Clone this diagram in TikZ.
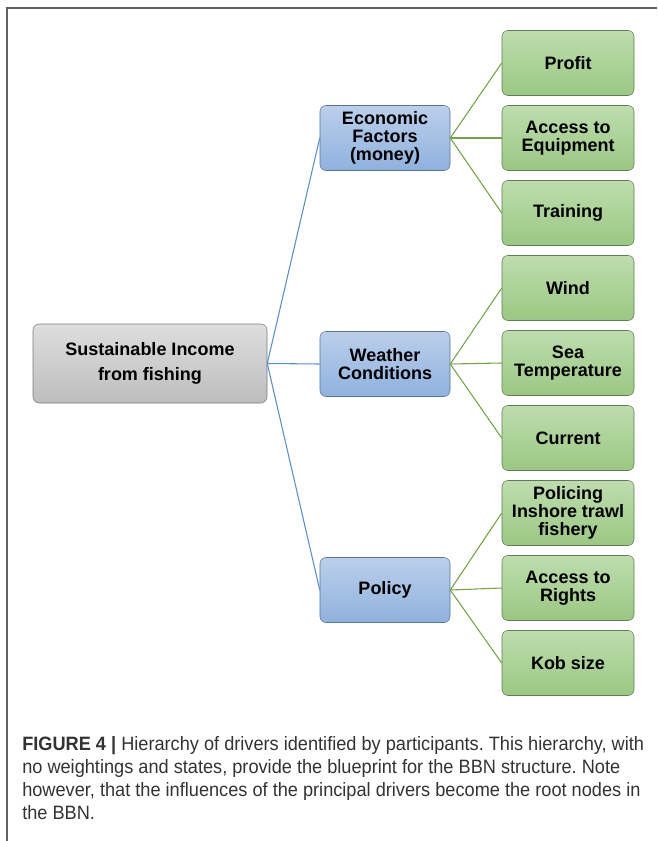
\documentclass[tikz,border=0pt]{standalone}
\usepackage{fontspec}
\setmainfont{Liberation Sans}
\newfontfamily\capfont[FakeStretch=0.94]{Liberation Sans}
\usetikzlibrary{shapes}
\frenchspacing

\definecolor{rootTop}{HTML}{DEDEDE}
\definecolor{rootBot}{HTML}{BDBDBD}
\definecolor{rootEdge}{HTML}{7A7A7A}
\definecolor{midTop}{HTML}{BBCFEB}
\definecolor{midBot}{HTML}{8FB2DE}
\definecolor{midEdge}{HTML}{56739C}
\definecolor{leafTop}{HTML}{BEDDAE}
\definecolor{leafBot}{HTML}{9AC882}
\definecolor{leafEdge}{HTML}{627A55}
\definecolor{blueLine}{HTML}{5B8ED0}
\definecolor{greenLine}{HTML}{74A446}
\definecolor{capText}{HTML}{333333}

\begin{document}
\begin{tikzpicture}[x=0.75pt, y=-0.75pt,
every node/.style = {rounded corners=4.5pt, align=center, inner sep=2pt,
                     font=\fontsize{13.5}{13.5}\selectfont\bfseries},
rootbox/.style = {draw=rootEdge, top color=rootTop, bottom color=rootBot,
                  minimum width=175.5pt, minimum height=59.25pt,
                  font=\fontsize{13.5}{18.75}\selectfont\bfseries},
midbox/.style = {draw=midEdge, top color=midTop, bottom color=midBot,
                 minimum width=97.5pt, minimum height=48.75pt},
leafbox/.style = {draw=leafEdge, top color=leafTop, bottom color=leafBot,
                  minimum width=99pt, minimum height=48.75pt},
capline/.style = {anchor=base west, inner sep=0pt, rounded corners=0pt,
                  text=capText, font=\capfont\fontsize{14.5}{17}\selectfont},
rootline/.style = {draw=blueLine, line width=0.8pt},
leafline/.style = {draw=greenLine, line width=0.8pt}]
\useasboundingbox (0,0) rectangle (657,841);
\draw[rootEdge!80!black, line width=0.8pt] (657,8) -- (7,8) -- (7,841);

\node[rootbox] (income) at (150,363.5) {Sustainable Income\\from fishing};

\node[midbox] (econ) at (385,0*226+138) {Economic\\Factors\\(money)};
\node[midbox] (weather) at (385,1*226+138) {Weather\\Conditions};
\node[midbox] (policy) at (385,2*226+138) {Policy};

\node[leafbox] (profit) at (568,0*75+63) {Profit};
\node[leafbox] (equip) at (568,1*75+63) {Access to\\Equipment};
\node[leafbox] (training) at (568,2*75+63) {Training};
\node[leafbox] (wind) at (568,3*75+63) {Wind};
\node[leafbox] (seatemp) at (568,4*75+63) {Sea\\Temperature};
\node[leafbox] (current) at (568,5*75+63) {Current};
\node[leafbox] (policing) at (568,6*75+63) {Policing\\Inshore trawl\\fishery};
\node[leafbox] (rights) at (568,7*75+63) {Access to\\Rights};
\node[leafbox] (kob) at (568,8*75+63) {Kob size};

% the branches
\foreach \m in {econ, weather, policy}
  \draw[rootline] (income.east) -- (\m.west);
\foreach \l in {profit, equip, training}
  \draw[leafline] (econ.east) -- (\l.west);
\foreach \l in {wind, seatemp, current}
  \draw[leafline] (weather.east) -- (\l.west);
\foreach \l in {policing, rights, kob}
  \draw[leafline] (policy.east) -- (\l.west);

\node[capline] (cap1) at (22,750) {\textbf{FIGURE 4 |} Hierarchy of drivers identified by participants. This hierarchy, with};
\node[capline] (cap2) at (22,773) {no weightings and states, provide the blueprint for the BBN structure. Note};
\node[capline] (cap3) at (22,796) {however, that the influences of the principal drivers become the root nodes in};
\node[capline] (cap4) at (22,819) {the BBN.};
\end{tikzpicture}
\end{document}
